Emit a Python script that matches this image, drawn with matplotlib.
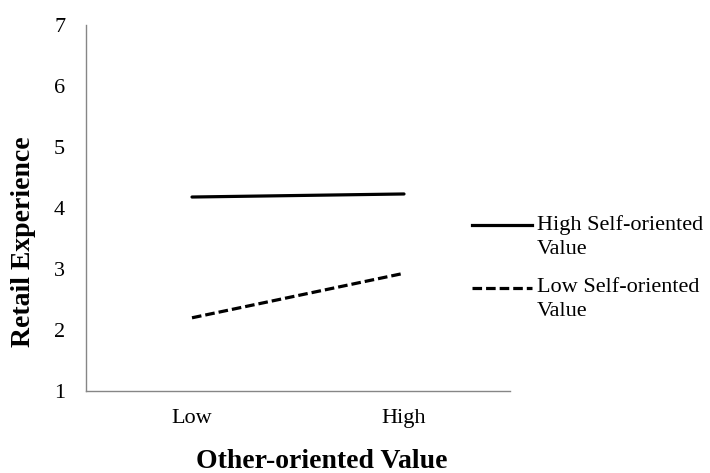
import matplotlib
matplotlib.use("Agg")
import matplotlib.pyplot as plt
from matplotlib.lines import Line2D

plt.rcParams["font.family"] = ["Liberation Serif", "DejaVu Serif"]

categories = ["Low", "High"]
high_self = [4.18, 4.23]
low_self = [2.20, 2.93]
series_labels = ["High Self-oriented\nValue", "Low Self-oriented\nValue"]

W, H = 710, 473
fig = plt.figure(figsize=(W / 100, H / 100), dpi=100)
ax = fig.add_axes([86 / W, 1 - 391 / H, 424 / W, 366 / H])

x = [0.5, 1.5]
dash = (0, (3.0, 1.25))
ax.plot(x, high_self, color="black", lw=2.3, solid_capstyle="round")
ax.plot(x, low_self, color="black", lw=2.3, ls=dash)

ax.set_xlim(0, 2)
ax.set_ylim(1, 7)
ax.set_xticks(x)
ax.set_xticklabels(categories)
ax.set_yticks(range(1, 8))
ax.tick_params(length=0, labelsize=16)
ax.tick_params(axis="x", pad=13)
ax.tick_params(axis="y", pad=15)

for side in ["top", "right"]:
    ax.spines[side].set_visible(False)
for side in ["left", "bottom"]:
    ax.spines[side].set_color("#868686")
    ax.spines[side].set_linewidth(1.0)

ax.set_ylabel("Retail Experience", fontsize=20, fontweight="bold", va="center", ha="center")
ax.yaxis.set_label_coords((23 - 86) / 424, (391 - 242) / 366)
ax.set_xlabel("Other-oriented Value", fontsize=20, fontweight="bold", va="center", ha="center")
ax.xaxis.set_label_coords((322 - 86) / 424, (391 - 461) / 366)

# legend drawn by hand so the sample line sits on the first text line
styles = ["-", dash]
for i, (label, ls) in enumerate(zip(series_labels, styles)):
    yc = 1 - (225 + 63 * i) / H
    fig.add_artist(Line2D([472 / W, 532 / W], [yc, yc], color="black", lw=2.3, ls=ls))
    fig.text(537 / W, yc + 10 / H, label, fontsize=16, va="top", ha="left", linespacing=1.35)

fig.savefig("out.png", dpi=100)
